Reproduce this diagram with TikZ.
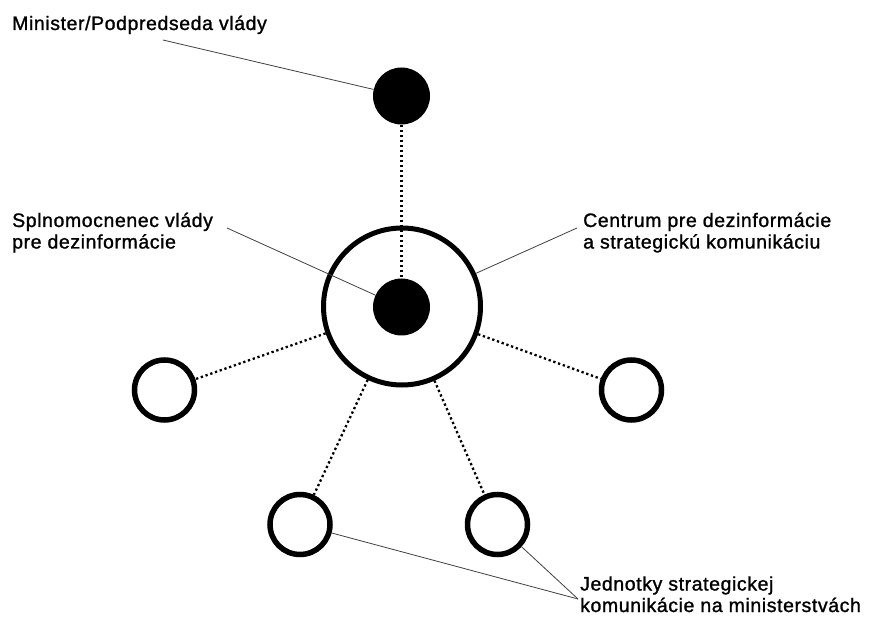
\documentclass[tikz,border=0pt]{standalone}
\usepackage{fontspec}
\newfontfamily\labelfont{Liberation Sans}[LetterSpace=3,FakeBold=1.2]
\usetikzlibrary{positioning}

\begin{document}
\begin{tikzpicture}[x=1pt,y=-1pt,
	dot/.style={circle,fill=black,inner sep=0pt,minimum size=57pt},
	ring/.style={circle,draw,line width=5.5pt,inner sep=0pt,minimum size=60pt},
	bigring/.style={circle,draw,line width=5pt,inner sep=0pt,minimum size=157pt},
	link/.style={line width=2.3pt,dash pattern=on 2.3pt off 2.7pt},
	leader/.style={line width=0.8pt,black!75},
	lbl/.style={inner sep=0pt,align=left,font=\labelfont\fontsize{19.5}{21.5}\selectfont}]
	\useasboundingbox (0,0) rectangle (876,636);

	% circles
	\node[dot] (minister) at (401.5,96){};
	\node[bigring] (centrum) at (402,306.5){};
	\node[dot] (splnom) at (401.5,307){};
	\node[ring] (unitL) at (164.5,390){};
	\node[ring] (unitR) at (631.5,390){};
	\node[ring] (unitBL) at (300,524.5){};
	\node[ring] (unitBR) at (497.5,524.5){};

	% labels (base = last line)
	\node[lbl,anchor=base west] (ministerlbl) at (12,30){Minister/Podpredseda vlády};
	\node[lbl,anchor=base west] (splnomlbl) at (12,248.5){Splnomocnenec vlády\\pre dezinformácie};
	\node[lbl,anchor=base west] (centrumlbl) at (583,248.5){Centrum pre dezinformácie\\a strategickú komunikáciu};
	\node[lbl,anchor=base west] (unitlbl) at (580,612){Jednotky strategickej\\komunikácie na ministerstvách};

	% leader line ends
	\coordinate (ministerpt) at (163,40);
	\coordinate (splnompt) at (227,228);
	\coordinate (centrumpt) at (577,228);
	\coordinate (unitpt) at (578,599);

	\draw[link] (minister) -- (splnom);
	\draw[link] (centrum) -- (unitL);
	\draw[link] (centrum) -- (unitR);
	\draw[link] (centrum) -- (unitBL);
	\draw[link] (centrum) -- (unitBR);

	\draw[leader] (ministerpt) -- (minister);
	\draw[leader] (splnompt) -- (splnom);
	\draw[leader] (centrumpt) -- (centrum);
	\draw[leader] (unitpt) -- (unitBL);
	\draw[leader] (unitpt) -- (unitBR);
\end{tikzpicture}
\end{document}
